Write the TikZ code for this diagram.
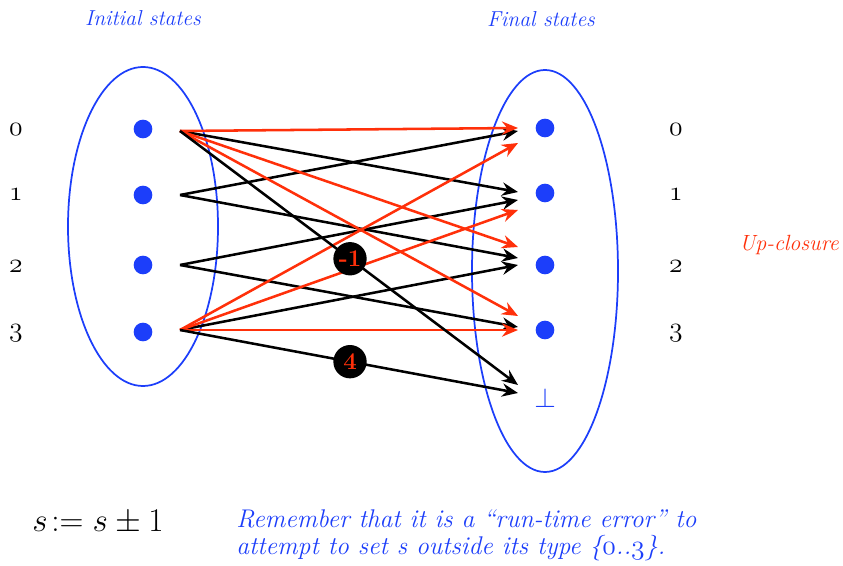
\documentclass[tikz,border=0pt]{standalone}
\usepackage{fontspec}
\usetikzlibrary{arrows.meta}
\definecolor{myblue}{RGB}{28,62,250}
\definecolor{myred}{RGB}{255,48,10}
\newcommand{\osn}[1]{{\usefont{OML}{lmm}{m}{it}#1}}
\begin{document}
\begin{tikzpicture}[x=0.75pt,y=-0.75pt,
  dot/.style={circle,fill=myblue,inner sep=0pt,minimum size=14pt},
  arr/.style={line width=1.9pt,-{Stealth[length=12pt,width=10pt,inset=4pt]}},
  blk/.style={arr,black},
  rd/.style={arr,myred},
  circ/.style={circle,fill=black,text=myred,inner sep=0pt,minimum size=25pt,font=\fontsize{18}{18}\selectfont\bfseries},
  num/.style={font=\fontsize{21.5}{22}\selectfont},
  ttl/.style={text=myblue,font=\fontsize{16.2}{18}\selectfont\itshape}]
\useasboundingbox (0,0) rectangle (843,566);
% ellipses
\draw[myblue,line width=1.3pt] (143,226.5) ellipse [x radius=75, y radius=159.5];
\draw[myblue,line width=1.3pt] (545,271) ellipse [x radius=73, y radius=201];
% dots
\foreach \i/\y in {0/129,1/195,2/265,3/332}{\node[dot] (l\i) at (143,\y) {};}
\foreach \i/\y in {0/128,1/193,2/265,3/330}{\node[dot] (r\i) at (545,\y) {};}
\node[text=myblue,font=\fontsize{21}{21}\selectfont] (bot) at (545,398) {$\bot$};
% numbers
\foreach \i/\y in {0/130,1/195,2/267,3/333}{
  \node[num] (ln\i) at (16,\y) {\osn{\i}};
  \node[num] (rn\i) at (676,\y) {\osn{\i}};}
% titles
\node[ttl] (ti) at (143,18) {Initial states};
\node[ttl] (tf) at (541,19) {Final states};
\node[text=myred,font=\fontsize{16.5}{18}\selectfont\itshape] (up) at (789,245) {Up-closure};
% sources
\coordinate (s0) at (180,131);
\coordinate (s1) at (180,195);
\coordinate (s2) at (180,265);
\coordinate (s3) at (180,330);
% targets
\coordinate (tr00) at (518,128);
\coordinate (tb10) at (518,131);
\coordinate (tr30) at (518,143);
\coordinate (tb01) at (518,192);
\coordinate (tb21) at (518,200);
\coordinate (tr31) at (518,210);
\coordinate (tr02) at (518,247);
\coordinate (tb12) at (518,258);
\coordinate (tb32) at (518,265);
\coordinate (tr03) at (518,316);
\coordinate (tb23) at (518,327);
\coordinate (tr33) at (518,330);
\coordinate (tb0b) at (518,385);
\coordinate (tb3b) at (518,393);
% black arrows
\draw[blk] (s0) -- (tb01);
\draw[blk] (s1) -- (tb10);
\draw[blk] (s1) -- (tb12);
\draw[blk] (s2) -- (tb21);
\draw[blk] (s2) -- (tb23);
\draw[blk] (s3) -- (tb32);
% red arrows
\draw[rd] (s0) -- (tr00);
\draw[rd] (s0) -- (tr02);
\draw[rd] (s0) -- (tr03);
\draw[rd] (s3) -- (tr30);
\draw[rd] (s3) -- (tr31);
\draw[rd] (s3) -- (tr33);
% error arrows
\draw[blk] (s0) -- node[circ,pos=0.503] (m1) {-1} (tb0b);
\draw[blk] (s3) -- node[circ,pos=0.503] (p4) {4} (tb3b);
% bottom
\node[font=\fontsize{26}{28}\selectfont] (eq) at (98,522) {$s\!:= s \pm 1$};
\node[text=myblue,font=\fontsize{19.2}{20.3}\selectfont\itshape,anchor=north west,align=left,inner sep=0pt] (rem) at (236,509)
  {Remember that it is a “run-time error” to\\attempt to set s outside its type \{\osn{0}..\osn{3}\}.};
\end{tikzpicture}
\end{document}
